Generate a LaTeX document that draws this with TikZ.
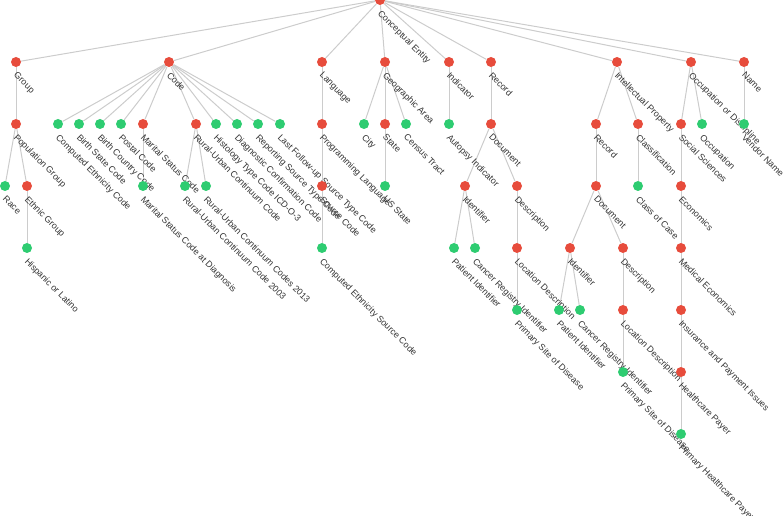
\documentclass[tikz,border=0pt]{standalone}
\usepackage{fontspec}
\setmainfont{Liberation Sans}
\usetikzlibrary{backgrounds}
\definecolor{classred}{HTML}{E74C3C}
\definecolor{leafgreen}{HTML}{2ECC71}
\definecolor{linkgray}{HTML}{CCCCCC}

\begin{document}
\begin{tikzpicture}[
  x=0.75pt,
  y=-0.75pt,
  font=\fontsize{6.75}{8}\selectfont,
  label distance=3.6pt,
  classnode/.style={
    circle,
    fill=classred,
    minimum size=7.5pt,
    inner sep=0pt
  },
  leafnode/.style={
    classnode,
    fill=leafgreen
  },
  lbl/.style={
    rotate=-45,
    anchor=north west,
    inner sep=0pt,
    text=black!80
  },
  link/.style={draw=linkgray,line width=0.75pt}
]
  \useasboundingbox (0,0) rectangle (784,516);

  % Root and first level of the hierarchy.
  \node[classnode,label={[lbl]-57:Conceptual Entity}] (entity) at (380,0) {};
  \node[classnode,label={[lbl]-57:Group}] (group) at (16,62) {};
  \node[classnode,label={[lbl]-57:Code}] (code) at (169,62) {};
  \node[classnode,label={[lbl]-57:Language}] (language) at (322,62) {};
  \node[classnode,label={[lbl]-57:Geographic Area}] (geoarea) at (385,62) {};
  \node[classnode,label={[lbl]-57:Indicator}] (indicator) at (449,62) {};
  \node[classnode,label={[lbl]-57:Record}] (record) at (491,62) {};
  \node[classnode,label={[lbl]-57:Intellectual Property}] (intprop) at (617,62) {};
  \node[classnode,label={[lbl]-57:Occupation or Discipline}] (occdisc) at (691,62) {};
  \node[classnode,label={[lbl]-57:Name}] (name) at (744,62) {};

  % Second level.
  \node[classnode,label={[lbl]-57:Population Group}] (popgroup) at (16,124) {};
  \node[leafnode,label={[lbl]-57:Computed Ethnicity Code}] (compethcode) at (58,124) {};
  \node[leafnode,label={[lbl]-57:Birth State Code}] (birthstate) at (79,124) {};
  \node[leafnode,label={[lbl]-57:Birth Country Code}] (birthcountry) at (100,124) {};
  \node[leafnode,label={[lbl]-57:Postal Code}] (postal) at (121,124) {};
  \node[classnode,label={[lbl]-57:Marital Status Code}] (marital) at (143,124) {};
  \node[classnode,label={[lbl]-57:Rural-Urban Continuum Code}] (ruralurban) at (196,124) {};
  \node[leafnode,label={[lbl]-57:Histology Type Code ICD-O-3}] (histology) at (216,124) {};
  \node[leafnode,label={[lbl]-57:Diagnostic Confirmation Code}] (diagconf) at (237,124) {};
  \node[leafnode,label={[lbl]-57:Reporting Source Type Code}] (repsource) at (258,124) {};
  \node[leafnode,label={[lbl]-57:Last Follow-up Source Type Code}] (lastfollow) at (280,124) {};
  \node[classnode,label={[lbl]-57:Programming Language}] (proglang) at (322,124) {};
  \node[leafnode,label={[lbl]-57:City}] (city) at (364,124) {};
  \node[classnode,label={[lbl]-57:State}] (state) at (385,124) {};
  \node[leafnode,label={[lbl]-57:Census Tract}] (census) at (406,124) {};
  \node[leafnode,label={[lbl]-57:Autopsy Indicator}] (autopsy) at (449,124) {};
  \node[classnode,label={[lbl]-57:Document}] (document) at (491,124) {};
  \node[classnode,label={[lbl]-57:Record}] (iprecord) at (596,124) {};
  \node[classnode,label={[lbl]-57:Classification}] (classif) at (638,124) {};
  \node[classnode,label={[lbl]-57:Social Sciences}] (socsci) at (681,124) {};
  \node[leafnode,label={[lbl]-57:Occupation}] (occupation) at (702,124) {};
  \node[leafnode,label={[lbl]-57:Vendor Name}] (vendor) at (744,124) {};

  % Third level.
  \node[leafnode,label={[lbl]-57:Race}] (race) at (5,186) {};
  \node[classnode,label={[lbl]-57:Ethnic Group}] (ethnic) at (27,186) {};
  \node[leafnode,label={[lbl]-57:Marital Status Code at Diagnosis}] (maritaldiag) at (143,186) {};
  \node[leafnode,label={[lbl]-57:Rural-Urban Continuum Code 2003}] (ruc2003) at (185,186) {};
  \node[leafnode,label={[lbl]-57:Rural-Urban Continuum Codes 2013}] (ruc2013) at (206,186) {};
  \node[classnode,label={[lbl]-57:Source Code}] (sourcecode) at (322,186) {};
  \node[leafnode,label={[lbl]-57:US State}] (usstate) at (385,186) {};
  \node[classnode,label={[lbl]-57:Identifier}] (identifier) at (465,186) {};
  \node[classnode,label={[lbl]-57:Description}] (description) at (517,186) {};
  \node[classnode,label={[lbl]-57:Document}] (ipdocument) at (596,186) {};
  \node[leafnode,label={[lbl]-57:Class of Case}] (classofcase) at (638,186) {};
  \node[classnode,label={[lbl]-57:Economics}] (economics) at (681,186) {};

  % Fourth level and below.
  \node[leafnode,label={[lbl]-57:Hispanic or Latino}] (hispanic) at (27,248) {};
  \node[leafnode,label={[lbl]-57:Computed Ethnicity Source Code}] (compethsource) at (322,248) {};
  \node[leafnode,label={[lbl]-57:Patient Identifier}] (patientid) at (454,248) {};
  \node[leafnode,label={[lbl]-57:Cancer Registry Identifier}] (cancerreg) at (475,248) {};
  \node[classnode,label={[lbl]-57:Location Description}] (locdesc) at (517,248) {};
  \node[classnode,label={[lbl]-57:Identifier}] (ipidentifier) at (570,248) {};
  \node[classnode,label={[lbl]-57:Description}] (ipdescription) at (623,248) {};
  \node[classnode,label={[lbl]-57:Medical Economics}] (medecon) at (681,248) {};

  \node[leafnode,label={[lbl]-57:Primary Site of Disease}] (primarysite) at (517,310) {};
  \node[leafnode,label={[lbl]-57:Patient Identifier}] (ippatientid) at (559,310) {};
  \node[leafnode,label={[lbl]-57:Cancer Registry Identifier}] (ipcancerreg) at (580,310) {};
  \node[classnode,label={[lbl]-57:Location Description}] (iplocdesc) at (623,310) {};
  \node[classnode,label={[lbl]-57:Insurance and Payment Issues}] (insurance) at (681,310) {};

  \node[leafnode,label={[lbl]-57:Primary Site of Disease}] (ipprimarysite) at (623,372) {};
  \node[classnode,label={[lbl]-57:Healthcare Payer}] (hcpayer) at (681,372) {};

  \node[leafnode,label={[lbl]-57:Primary Healthcare Payer}] (primhcpayer) at (681,434) {};

  % Links sit behind the circles and labels.
  \begin{scope}[on background layer]
    \draw[link] (entity) -- (group);
    \draw[link] (entity) -- (code);
    \draw[link] (entity) -- (language);
    \draw[link] (entity) -- (geoarea);
    \draw[link] (entity) -- (indicator);
    \draw[link] (entity) -- (record);
    \draw[link] (entity) -- (intprop);
    \draw[link] (entity) -- (occdisc);
    \draw[link] (entity) -- (name);

    \draw[link] (group) -- (popgroup);
    \draw[link] (popgroup) -- (race);
    \draw[link] (popgroup) -- (ethnic);
    \draw[link] (ethnic) -- (hispanic);

    \draw[link] (code) -- (compethcode);
    \draw[link] (code) -- (birthstate);
    \draw[link] (code) -- (birthcountry);
    \draw[link] (code) -- (postal);
    \draw[link] (code) -- (marital);
    \draw[link] (code) -- (ruralurban);
    \draw[link] (code) -- (histology);
    \draw[link] (code) -- (diagconf);
    \draw[link] (code) -- (repsource);
    \draw[link] (code) -- (lastfollow);
    \draw[link] (marital) -- (maritaldiag);
    \draw[link] (ruralurban) -- (ruc2003);
    \draw[link] (ruralurban) -- (ruc2013);

    \draw[link] (language) -- (proglang);
    \draw[link] (proglang) -- (sourcecode);
    \draw[link] (sourcecode) -- (compethsource);

    \draw[link] (geoarea) -- (city);
    \draw[link] (geoarea) -- (state);
    \draw[link] (geoarea) -- (census);
    \draw[link] (state) -- (usstate);

    \draw[link] (indicator) -- (autopsy);

    \draw[link] (record) -- (document);
    \draw[link] (document) -- (identifier);
    \draw[link] (document) -- (description);
    \draw[link] (identifier) -- (patientid);
    \draw[link] (identifier) -- (cancerreg);
    \draw[link] (description) -- (locdesc);
    \draw[link] (locdesc) -- (primarysite);

    \draw[link] (intprop) -- (iprecord);
    \draw[link] (intprop) -- (classif);
    \draw[link] (iprecord) -- (ipdocument);
    \draw[link] (ipdocument) -- (ipidentifier);
    \draw[link] (ipdocument) -- (ipdescription);
    \draw[link] (ipidentifier) -- (ippatientid);
    \draw[link] (ipidentifier) -- (ipcancerreg);
    \draw[link] (ipdescription) -- (iplocdesc);
    \draw[link] (iplocdesc) -- (ipprimarysite);
    \draw[link] (classif) -- (classofcase);

    \draw[link] (occdisc) -- (socsci);
    \draw[link] (occdisc) -- (occupation);
    \draw[link] (socsci) -- (economics);
    \draw[link] (economics) -- (medecon);
    \draw[link] (medecon) -- (insurance);
    \draw[link] (insurance) -- (hcpayer);
    \draw[link] (hcpayer) -- (primhcpayer);

    \draw[link] (name) -- (vendor);
  \end{scope}
\end{tikzpicture}
\end{document}
